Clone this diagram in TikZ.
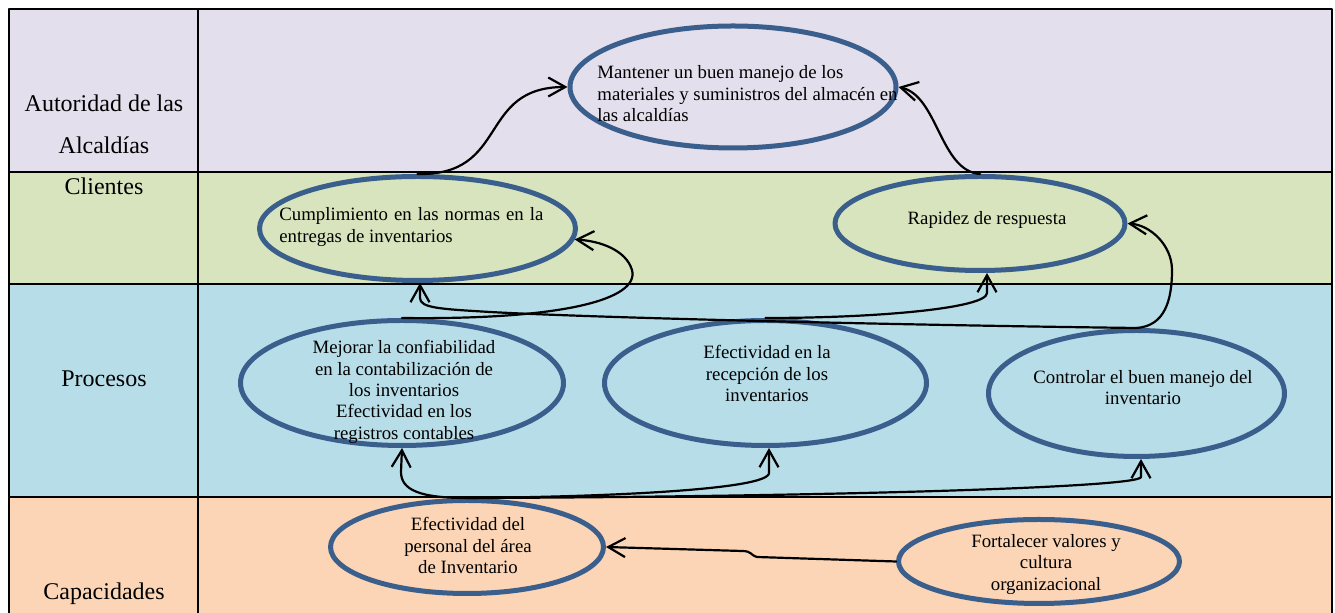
\documentclass[tikz,border=0pt]{standalone}
\usepackage{fontspec}
\setmainfont{Liberation Serif}
\usetikzlibrary{shapes.geometric,arrows.meta}
\definecolor{lila}{HTML}{E4DFEC}
\definecolor{verde}{HTML}{D7E4BD}
\definecolor{celeste}{HTML}{B7DDE8}
\definecolor{durazno}{HTML}{FBD5B5}
\definecolor{azulborde}{HTML}{3A5F8D}

\begin{document}
\begin{tikzpicture}[x=0.5pt,y=-0.5pt,line cap=round,line join=round,
  meta/.style={ellipse,draw=azulborde,line width=2.5pt,inner sep=0pt},
  etq/.style={font=\fontsize{9.4}{10.7}\selectfont,inner sep=0pt,align=center},
  lado/.style={font=\fontsize{12}{21}\selectfont,inner sep=0pt,align=center},
  flecha/.style={-{Straight Barb[length=8.5pt,width=9.5pt]},line width=1.1pt}]
  \useasboundingbox (0,0) rectangle (1335,613);

  % Bands
  \fill[lila] (9,9) rectangle (1332,172);
  \fill[verde] (9,172) rectangle (1332,284);
  \fill[celeste] (9,284) rectangle (1332,497);
  \fill[durazno] (9,497) rectangle (1332,613);

  % Grid
  \draw[line width=1pt] (9,613) -- (9,9) -- (1332,9) -- (1332,613);
  \draw[line width=1pt] (198,9) -- (198,613);
  \foreach \y in {172,284,497}
    \draw[line width=1pt] (9,\y) -- (1332,\y);

  % Row titles
  \node[lado] (autoridad) at (104,124) {Autoridad de las\\Alcaldías};
  \node[lado] (clientes) at (104,186) {Clientes};
  \node[lado] (procesos) at (104,379) {Procesos};
  \node[lado] (capacidades) at (104,594) {Capacidades};

  % Objectives
  \node[meta,minimum width=163pt,minimum height=61pt] (mantener) at (733,87) {};
  \node[meta,minimum width=158pt,minimum height=52pt] (cumplimiento) at (417.5,228.5) {};
  \node[meta,minimum width=145pt,minimum height=47pt] (rapidez) at (980,223.5) {};
  \node[meta,minimum width=161.5pt,minimum height=62.5pt] (mejorar) at (402,383) {};
  \node[meta,minimum width=161pt,minimum height=62.5pt] (recepcion) at (765.5,383) {};
  \node[meta,minimum width=148pt,minimum height=63pt] (controlar) at (1136.5,393.5) {};
  \node[meta,minimum width=136.5pt,minimum height=46.5pt] (personal) at (467,547) {};
  \node[meta,minimum width=140.5pt,minimum height=42pt] (fortalecer) at (1039,561.5) {};

  % Objective texts
  \node[etq,align=left,anchor=north west] (mantener-t) at (597,65.5)
    {Mantener un buen manejo de los\\materiales y suministros del almacén en\\las alcaldías};
  \node[etq,align=justify,text width=132pt,anchor=north west] (cumplimiento-t) at (279,207.5)
    {Cumplimiento en las normas en la entregas de inventarios};
  \node[etq] (rapidez-t) at (987,220) {Rapidez de respuesta};
  \node[etq] (mejorar-t) at (404,392)
    {Mejorar la confiabilidad\\en la contabilización de\\los inventarios\\Efectividad en los\\registros contables};
  \node[etq] (recepcion-t) at (767,373.5) {Efectividad en la\\recepción de los\\inventarios};
  \node[etq] (controlar-t) at (1143,387.5) {Controlar el buen manejo del\\inventario};
  \node[etq] (personal-t) at (468,545.5) {Efectividad del\\personal del área\\de Inventario};
  \node[etq] (fortalecer-t) at (1046,564.5) {Fortalecer valores y\\cultura\\organizacional};

  % Links
  \draw[flecha] (cumplimiento.north) .. controls (510,176) and (477,87) .. (mantener.west);
  \draw[flecha] (rapidez.north) .. controls (940,171) and (938,96) .. (mantener.east);
  \draw[flecha] (mejorar.north) .. controls (560,320) and (640,300) .. (632,270)
    .. controls (626,250) and (600,241) .. (cumplimiento.-4);
  \draw[flecha] (controlar.north) .. controls (900,325) and (600,318) .. (490,312)
    .. controls (440,309) and (420,308) .. (420,298) -- ([xshift=1.25pt]cumplimiento.south);
  \draw[flecha] (controlar.north) .. controls (1165,326) and (1172,300) .. (1172,270)
    .. controls (1172,245) and (1150,225) .. (rapidez.east);
  \draw[flecha] (recepcion.north) .. controls (880,318) and (987,308) .. (987,293)
    -- ([xshift=3.5pt]rapidez.south);
  \draw[flecha] (personal.north) .. controls (420,498) and (401,490) .. (401,472) -- (mejorar.south);
  \draw[flecha] (personal.north) .. controls (600,497) and (769,490) .. (769,473)
    -- ([xshift=1.75pt]recepcion.south);
  \draw[flecha] (personal.north) .. controls (800,497) and (1141,488) .. (1141,477)
    -- ([xshift=2.25pt]controlar.south);
  \draw[flecha] (fortalecer.west) -- (757,557) .. controls (750,555) and (752,551) .. (742,551)
    -- (personal.east);
\end{tikzpicture}
\end{document}
